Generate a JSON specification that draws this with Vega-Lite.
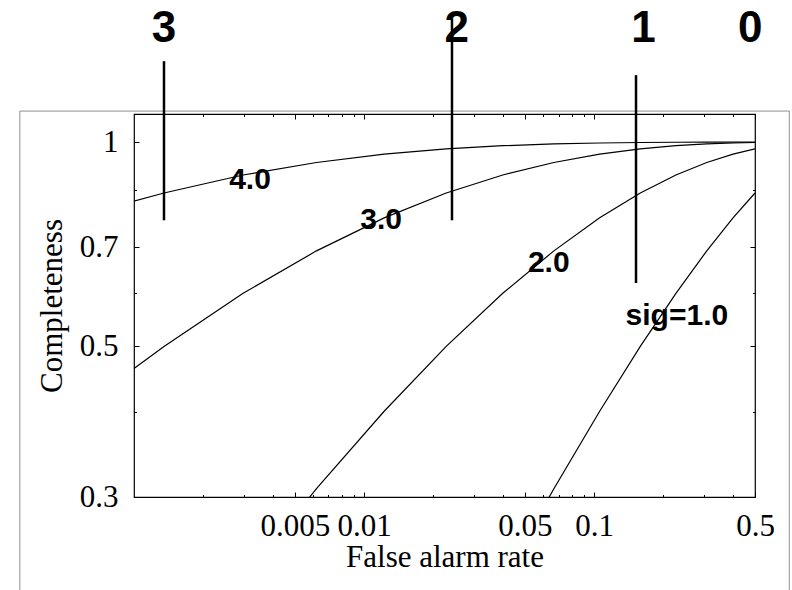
{
  "$schema": "https://vega.github.io/schema/vega-lite/v6.json",
  "width": 621,
  "height": 383,
  "autosize": {"type": "none"},
  "padding": {"left": 134, "top": 114, "right": 37, "bottom": 93},
  "background": "white",
  "config": {
    "view": {"stroke": "black", "strokeWidth": 1.2},
    "axis": {
      "domain": false,
      "grid": false,
      "labelFont": "Liberation Serif",
      "labelFontSize": 31,
      "labelColor": "black",
      "labelFlush": false,
      "labelOverlap": false,
      "titleFont": "Liberation Serif",
      "titleFontSize": 31,
      "titleFontWeight": "normal",
      "titleColor": "black",
      "tickColor": "black",
      "tickWidth": 1
    }
  },
  "datasets": {
    "curves": [
      {"far": 0.5, "comp": 0.84134, "sig": "1"},
      {"far": 0.401294, "comp": 0.77337, "sig": "1"},
      {"far": 0.308538, "comp": 0.69146, "sig": "1"},
      {"far": 0.226627, "comp": 0.59871, "sig": "1"},
      {"far": 0.158655, "comp": 0.5, "sig": "1"},
      {"far": 0.10565, "comp": 0.40129, "sig": "1"},
      {"far": 0.066807, "comp": 0.30854, "sig": "1"},
      {"far": 0.040059, "comp": 0.22663, "sig": "1"},
      {"far": 0.5, "comp": 0.97725, "sig": "2"},
      {"far": 0.401294, "comp": 0.95994, "sig": "2"},
      {"far": 0.308538, "comp": 0.93319, "sig": "2"},
      {"far": 0.226627, "comp": 0.89435, "sig": "2"},
      {"far": 0.158655, "comp": 0.84134, "sig": "2"},
      {"far": 0.10565, "comp": 0.77337, "sig": "2"},
      {"far": 0.066807, "comp": 0.69146, "sig": "2"},
      {"far": 0.040059, "comp": 0.59871, "sig": "2"},
      {"far": 0.02275, "comp": 0.5, "sig": "2"},
      {"far": 0.012224, "comp": 0.40129, "sig": "2"},
      {"far": 0.00621, "comp": 0.30854, "sig": "2"},
      {"far": 0.00298, "comp": 0.22663, "sig": "2"},
      {"far": 0.5, "comp": 0.99865, "sig": "3"},
      {"far": 0.401294, "comp": 0.99702, "sig": "3"},
      {"far": 0.308538, "comp": 0.99379, "sig": "3"},
      {"far": 0.226627, "comp": 0.98778, "sig": "3"},
      {"far": 0.158655, "comp": 0.97725, "sig": "3"},
      {"far": 0.10565, "comp": 0.95994, "sig": "3"},
      {"far": 0.066807, "comp": 0.93319, "sig": "3"},
      {"far": 0.040059, "comp": 0.89435, "sig": "3"},
      {"far": 0.02275, "comp": 0.84134, "sig": "3"},
      {"far": 0.012224, "comp": 0.77337, "sig": "3"},
      {"far": 0.00621, "comp": 0.69146, "sig": "3"},
      {"far": 0.00298, "comp": 0.59871, "sig": "3"},
      {"far": 0.00135, "comp": 0.5, "sig": "3"},
      {"far": 0.000968, "comp": 0.46017, "sig": "3"},
      {"far": 0.5, "comp": 0.99997, "sig": "4"},
      {"far": 0.401294, "comp": 0.99991, "sig": "4"},
      {"far": 0.308538, "comp": 0.99977, "sig": "4"},
      {"far": 0.226627, "comp": 0.99942, "sig": "4"},
      {"far": 0.158655, "comp": 0.99865, "sig": "4"},
      {"far": 0.10565, "comp": 0.99702, "sig": "4"},
      {"far": 0.066807, "comp": 0.99379, "sig": "4"},
      {"far": 0.040059, "comp": 0.98778, "sig": "4"},
      {"far": 0.02275, "comp": 0.97725, "sig": "4"},
      {"far": 0.012224, "comp": 0.95994, "sig": "4"},
      {"far": 0.00621, "comp": 0.93319, "sig": "4"},
      {"far": 0.00298, "comp": 0.89435, "sig": "4"},
      {"far": 0.00135, "comp": 0.84134, "sig": "4"},
      {"far": 0.000968, "comp": 0.81594, "sig": "4"}
    ],
    "thresholds": [
      {"far": 0.00135, "lo": 0.767, "hi": 1.316},
      {"far": 0.0241, "lo": 0.767, "hi": 1.52},
      {"far": 0.152, "lo": 0.62, "hi": 1.255}
    ],
    "curveLabels": [
      {"far": 0.003193, "comp": 0.8527, "label": "4.0"},
      {"far": 0.01186, "comp": 0.7438, "label": "3.0"},
      {"far": 0.0635, "comp": 0.6427, "label": "2.0"},
      {"far": 0.2288, "comp": 0.5376, "label": "sig=1.0"}
    ],
    "thresholdLabels": [
      {"far": 0.00135, "comp": 1.405, "label": "3"},
      {"far": 0.0253, "comp": 1.405, "label": "2"},
      {"far": 0.164, "comp": 1.405, "label": "1"},
      {"far": 0.477, "comp": 1.405, "label": "0"}
    ],
    "border": [
      {"x1": 0.000319, "x2": 0.7047, "y1": 0.1977, "y2": 1.111}
    ]
  },
  "layer": [
    {
      "data": {"name": "border"},
      "mark": {"type": "rect", "fillOpacity": 0, "stroke": "#8f8f8f", "strokeWidth": 1, "clip": false},
      "encoding": {
        "x": {"field": "x1", "type": "quantitative", "scale": {"type": "log", "domain": [0.001, 0.5], "nice": false}, "axis": null},
        "x2": {"field": "x2"},
        "y": {"field": "y1", "type": "quantitative", "scale": {"type": "log", "domain": [0.3, 1.1], "nice": false}, "axis": null},
        "y2": {"field": "y2"}
      }
    },
    {
      "data": {"name": "curves"},
      "mark": {"type": "line", "color": "black", "strokeWidth": 1.2, "clip": true},
      "encoding": {
        "x": {
          "field": "far", "type": "quantitative",
          "scale": {"type": "log", "domain": [0.001, 0.5], "nice": false},
          "axis": {"orient": "bottom", "title": "False alarm rate", "values": [0.005, 0.01, 0.05, 0.1, 0.5], "format": "~g", "tickSize": -5, "labelPadding": 19, "titleBaseline": "alphabetic", "titleY": 69}
        },
        "y": {
          "field": "comp", "type": "quantitative",
          "scale": {"type": "log", "domain": [0.3, 1.1], "nice": false},
          "axis": {"orient": "left", "title": "Completeness", "values": [0.3, 0.5, 0.7, 1], "format": "~g", "tickSize": -5, "labelPadding": 21, "titleBaseline": "alphabetic", "titleX": -73}
        },
        "detail": {"field": "sig"}
      }
    },
    {
      "data": {"name": "thresholds"},
      "mark": {"type": "rule", "color": "black", "strokeWidth": 2.5, "clip": false},
      "encoding": {
        "x": {
          "field": "far", "type": "quantitative",
          "scale": {"type": "log", "domain": [0.001, 0.5], "nice": false},
          "axis": {"orient": "bottom", "title": null, "labels": false, "values": [0.002, 0.003, 0.004, 0.006, 0.007, 0.008, 0.009, 0.02, 0.03, 0.04, 0.06, 0.07, 0.08, 0.09, 0.2, 0.3, 0.4], "tickSize": -2.5}
        },
        "y": {
          "field": "lo", "type": "quantitative",
          "scale": {"type": "log", "domain": [0.3, 1.1], "nice": false},
          "axis": {"orient": "left", "title": null, "labels": false, "values": [0.4, 0.6, 0.85], "tickSize": -2.5}
        },
        "y2": {"field": "hi"}
      }
    },
    {
      "data": {"name": "curveLabels"},
      "mark": {"type": "text", "font": "Liberation Sans", "fontWeight": "bold", "fontSize": 30, "color": "black", "align": "center", "baseline": "alphabetic"},
      "encoding": {
        "x": {
          "field": "far", "type": "quantitative",
          "scale": {"type": "log", "domain": [0.001, 0.5], "nice": false},
          "axis": {"orient": "top", "title": null, "labels": false, "values": [0.005, 0.01, 0.05, 0.1, 0.5], "tickSize": -5}
        },
        "y": {
          "field": "comp", "type": "quantitative",
          "scale": {"type": "log", "domain": [0.3, 1.1], "nice": false},
          "axis": {"orient": "right", "title": null, "labels": false, "values": [0.3, 0.5, 0.7, 1], "tickSize": -5}
        },
        "text": {"field": "label"}
      }
    },
    {
      "data": {"name": "thresholdLabels"},
      "mark": {"type": "text", "font": "Liberation Sans", "fontWeight": "bold", "fontSize": 44, "color": "black", "align": "center", "baseline": "alphabetic"},
      "encoding": {
        "x": {
          "field": "far", "type": "quantitative",
          "scale": {"type": "log", "domain": [0.001, 0.5], "nice": false},
          "axis": {"orient": "top", "title": null, "labels": false, "values": [0.002, 0.003, 0.004, 0.006, 0.007, 0.008, 0.009, 0.02, 0.03, 0.04, 0.06, 0.07, 0.08, 0.09, 0.2, 0.3, 0.4], "tickSize": -2.5}
        },
        "y": {
          "field": "comp", "type": "quantitative",
          "scale": {"type": "log", "domain": [0.3, 1.1], "nice": false},
          "axis": {"orient": "right", "title": null, "labels": false, "values": [0.4, 0.6, 0.85], "tickSize": -2.5}
        },
        "text": {"field": "label"}
      }
    }
  ],
  "resolve": {"axis": {"x": "independent", "y": "independent"}}
}
